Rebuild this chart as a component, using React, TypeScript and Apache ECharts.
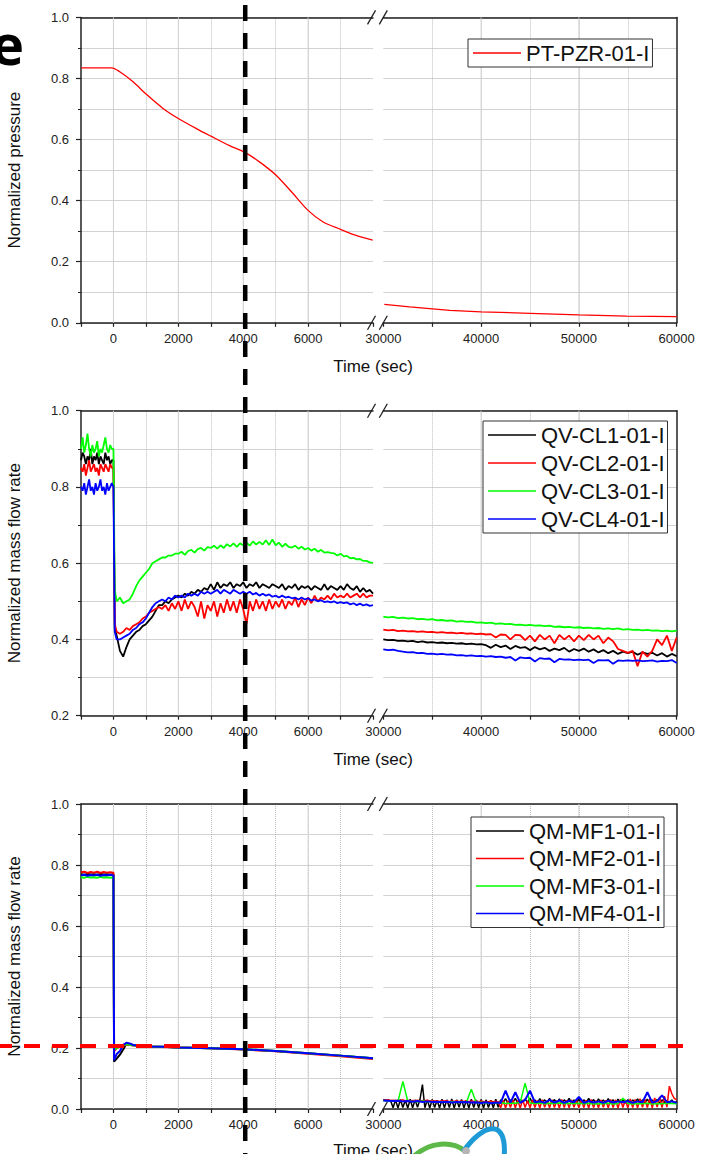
import React, { useEffect, useRef } from 'react';
import * as echarts from 'echarts';

const FONT = '"Liberation Sans", Arial, Helvetica, sans-serif';
const range = (start: number, step: number, n: number) => Array.from({ length: n }, (_, i) => start + i * step);
const zip = (t: number[], v: number[]) => t.map((x, i) => [x, v[i]]);

// ---------- Panel 1: normalized pressure ----------
const pressureLeftTime = [-1000, -60, 195, 605, 1015, 1528, 2000, 2554, 3005, 3580, 4051, 4500, 5005, 5528, 5990, 6451, 7000, 7477, 7990];
const pressureLeftValue = [0.835, 0.835, 0.822, 0.789, 0.748, 0.702, 0.669, 0.636, 0.611, 0.58, 0.558, 0.527, 0.484, 0.424, 0.369, 0.331, 0.306, 0.286, 0.271];
const pressureRightTime = [30100, 32700, 36800, 40000, 45000, 50000, 54900, 60000];
const pressureRightValue = [0.06, 0.052, 0.041, 0.036, 0.031, 0.026, 0.022, 0.02];

// ---------- Panel 2: cold-leg mass flow rates ----------
const clLeftTime = [...range(-1000, 50, 21), 40, ...range(100, 100, 80)];
const clRightTime = range(30000, 500, 61);

const cl1Left = [
  0.87, 0.89, 0.88, 0.86, 0.88, 0.87, 0.9, 0.86, 0.88, 0.87, 0.89, 0.86, 0.88, 0.87, 0.86, 0.89, 0.87, 0.88, 0.86, 0.87, 0.87,
  0.43,
  0.41, 0.37, 0.355, 0.38, 0.4, 0.41, 0.42, 0.425, 0.435, 0.44, 0.45, 0.46, 0.475, 0.49, 0.49, 0.5, 0.495, 0.505, 0.51, 0.515,
  0.51, 0.52, 0.515, 0.525, 0.52, 0.53, 0.525, 0.535, 0.53, 0.545, 0.53, 0.55, 0.535, 0.545, 0.54, 0.55, 0.535, 0.545, 0.54, 0.55,
  0.535, 0.545, 0.54, 0.55, 0.535, 0.545, 0.54, 0.535, 0.545, 0.54, 0.535, 0.545, 0.53, 0.54, 0.535, 0.545, 0.53, 0.54, 0.535, 0.54,
  0.53, 0.54, 0.535, 0.53, 0.545, 0.53, 0.54, 0.535, 0.53, 0.54, 0.53, 0.545, 0.535, 0.53, 0.54, 0.525, 0.535, 0.525, 0.53, 0.52,
];
const cl2Left = [
  0.85, 0.84, 0.86, 0.83, 0.85, 0.87, 0.84, 0.85, 0.86, 0.84, 0.85, 0.83, 0.86, 0.85, 0.84, 0.86, 0.85, 0.84, 0.86, 0.85, 0.85,
  0.44,
  0.42, 0.415, 0.42, 0.43, 0.425, 0.435, 0.44, 0.445, 0.455, 0.46, 0.47, 0.475, 0.48, 0.485, 0.48, 0.49, 0.475, 0.495, 0.48, 0.5,
  0.475, 0.505, 0.48, 0.5, 0.485, 0.46, 0.5, 0.455, 0.49, 0.475, 0.5, 0.46, 0.495, 0.47, 0.505, 0.475, 0.5, 0.47, 0.505, 0.48,
  0.44, 0.5, 0.475, 0.505, 0.48, 0.5, 0.475, 0.505, 0.48, 0.5, 0.485, 0.505, 0.48, 0.5, 0.49, 0.51, 0.485, 0.505, 0.49, 0.51,
  0.495, 0.515, 0.5, 0.51, 0.505, 0.515, 0.505, 0.52, 0.51, 0.515, 0.51, 0.52, 0.51, 0.515, 0.52, 0.51, 0.52, 0.51, 0.515, 0.515,
];
const cl3Left = [
  0.9, 0.93, 0.89, 0.91, 0.94, 0.9, 0.88, 0.91, 0.89, 0.9, 0.92, 0.88, 0.9, 0.89, 0.91, 0.93, 0.9, 0.89, 0.91, 0.9, 0.9,
  0.53,
  0.5, 0.51, 0.495, 0.5, 0.505, 0.52, 0.54, 0.555, 0.565, 0.575, 0.585, 0.6, 0.605, 0.61, 0.615, 0.615, 0.62, 0.62, 0.625, 0.625,
  0.63, 0.622, 0.632, 0.635, 0.628, 0.637, 0.64, 0.633, 0.642, 0.64, 0.646, 0.638, 0.647, 0.64, 0.65, 0.644, 0.652, 0.643, 0.652, 0.647,
  0.654, 0.646, 0.657, 0.649, 0.656, 0.649, 0.66, 0.648, 0.662, 0.647, 0.654, 0.643, 0.651, 0.643, 0.641, 0.646, 0.638, 0.643, 0.636, 0.64,
  0.633, 0.638, 0.63, 0.635, 0.628, 0.629, 0.627, 0.626, 0.62, 0.625, 0.618, 0.619, 0.613, 0.614, 0.61, 0.611, 0.606, 0.606, 0.602, 0.601,
];
const cl4Left = [
  0.8, 0.79, 0.81, 0.78, 0.8, 0.82, 0.79, 0.8, 0.78, 0.81, 0.79, 0.8, 0.82, 0.79, 0.8, 0.78, 0.81, 0.79, 0.8, 0.81, 0.8,
  0.42,
  0.4, 0.4, 0.405, 0.41, 0.415, 0.425, 0.43, 0.44, 0.445, 0.455, 0.47, 0.485, 0.495, 0.5, 0.505, 0.5, 0.51, 0.505, 0.515, 0.51,
  0.515, 0.51, 0.52, 0.515, 0.52, 0.515, 0.525, 0.52, 0.525, 0.52, 0.525, 0.53, 0.52, 0.53, 0.525, 0.52, 0.53, 0.525, 0.52, 0.525,
  0.52, 0.525, 0.518, 0.522, 0.515, 0.52, 0.515, 0.518, 0.512, 0.515, 0.51, 0.515, 0.51, 0.512, 0.508, 0.51, 0.505, 0.51, 0.505, 0.508,
  0.502, 0.505, 0.5, 0.503, 0.498, 0.5, 0.497, 0.5, 0.495, 0.498, 0.495, 0.497, 0.492, 0.495, 0.49, 0.494, 0.489, 0.492, 0.488, 0.49,
];
const cl1Right = [
  0.4,
  0.398, 0.399, 0.396, 0.397, 0.395, 0.396, 0.393, 0.395, 0.392, 0.393,
  0.391, 0.392, 0.39, 0.391, 0.389, 0.39, 0.388, 0.389, 0.387, 0.388,
  0.385, 0.378, 0.386, 0.38, 0.384, 0.375, 0.383, 0.378, 0.38, 0.372,
  0.38, 0.374, 0.378, 0.37, 0.376, 0.372, 0.378, 0.368, 0.375, 0.37,
  0.376, 0.368, 0.374, 0.366, 0.372, 0.364, 0.37, 0.362, 0.368, 0.364,
  0.368, 0.36, 0.366, 0.362, 0.365, 0.358, 0.364, 0.355, 0.362, 0.356,
];
const cl2Right = [
  0.426,
  0.424, 0.425, 0.422, 0.423, 0.421, 0.422, 0.42, 0.421, 0.419, 0.42,
  0.418, 0.419, 0.417, 0.418, 0.416, 0.417, 0.415, 0.416, 0.414, 0.415,
  0.413, 0.414, 0.405, 0.413, 0.412, 0.4, 0.412, 0.411, 0.398, 0.41,
  0.395, 0.412, 0.4, 0.41, 0.39, 0.412, 0.4, 0.41, 0.395, 0.41,
  0.398, 0.412, 0.4, 0.41, 0.39, 0.405, 0.395, 0.375, 0.37, 0.365,
  0.37, 0.33, 0.368, 0.355, 0.37, 0.4, 0.385, 0.41, 0.37, 0.405,
];
const cl3Right = [
  0.46,
  0.458, 0.459, 0.456, 0.457, 0.455, 0.456, 0.453, 0.454, 0.452, 0.453,
  0.45, 0.451, 0.449, 0.45, 0.447, 0.448, 0.446, 0.447, 0.444, 0.445,
  0.443, 0.444, 0.441, 0.442, 0.44, 0.441, 0.438, 0.439, 0.437, 0.438,
  0.436, 0.437, 0.435, 0.436, 0.433, 0.434, 0.432, 0.433, 0.431, 0.432,
  0.43, 0.431, 0.429, 0.43, 0.428, 0.429, 0.427, 0.429, 0.426, 0.427,
  0.425, 0.426, 0.424, 0.425, 0.423, 0.424, 0.422, 0.423, 0.421, 0.423,
];
const cl4Right = [
  0.374,
  0.372, 0.373, 0.37, 0.368, 0.366, 0.367, 0.364, 0.365, 0.362, 0.363,
  0.361, 0.362, 0.36, 0.361, 0.358, 0.359, 0.357, 0.358, 0.356, 0.357,
  0.355, 0.356, 0.354, 0.355, 0.352, 0.354, 0.345, 0.353, 0.351, 0.352,
  0.342, 0.351, 0.349, 0.35, 0.34, 0.349, 0.347, 0.348, 0.346, 0.347,
  0.346, 0.347, 0.338, 0.346, 0.345, 0.346, 0.336, 0.345, 0.344, 0.345,
  0.344, 0.345, 0.343, 0.344, 0.345, 0.342, 0.344, 0.343, 0.346, 0.338,
];

// ---------- Panel 3: main feedwater mass flow rates ----------
const mfLeftTime = [...range(-1000, 100, 11), 20, 100, 200, 300, 400, 500, 600, 800, 1000, 1500, 2000, 3000, 4000, 5000, 6000, 7000, 8000];
const mfRightTimeDense = range(30000, 250, 121);
const mfRightTime = range(30000, 500, 61);

const mf1Left = [0.77, 0.768, 0.771, 0.769, 0.77, 0.768, 0.771, 0.769, 0.77, 0.768, 0.77,
  0.155, 0.165, 0.178, 0.195, 0.214, 0.213, 0.21, 0.207, 0.205, 0.204, 0.202, 0.199, 0.196, 0.19, 0.183, 0.175, 0.166];
const mf2Left = [0.776, 0.778, 0.774, 0.777, 0.775, 0.778, 0.774, 0.777, 0.775, 0.776, 0.775,
  0.19, 0.2, 0.205, 0.208, 0.21, 0.21, 0.208, 0.207, 0.205, 0.203, 0.202, 0.199, 0.195, 0.189, 0.181, 0.173, 0.164];
const mf3Left = [0.76, 0.758, 0.761, 0.759, 0.76, 0.758, 0.761, 0.759, 0.76, 0.758, 0.76,
  0.195, 0.2, 0.205, 0.21, 0.212, 0.211, 0.209, 0.207, 0.205, 0.204, 0.202, 0.199, 0.196, 0.19, 0.183, 0.175, 0.166];
const mf4Left = [0.766, 0.768, 0.765, 0.767, 0.766, 0.768, 0.765, 0.767, 0.766, 0.768, 0.766,
  0.16, 0.18, 0.19, 0.21, 0.217, 0.215, 0.21, 0.207, 0.205, 0.204, 0.202, 0.199, 0.196, 0.19, 0.183, 0.175, 0.166];

// sampled every 250 s
const mf1Right = [
  0.03, 0.029, 0.028, 0.027, 0.004, 0.03, 0.003, 0.031, 0.005, 0.029, 0.003, 0.032, 0.004, 0.03, 0.006, 0.031, 0.08, 0.004, 0.03, 0.003,
  0.031, 0.005, 0.029, 0.003, 0.032, 0.004, 0.03, 0.005, 0.033, 0.003, 0.03, 0.006, 0.031, 0.004, 0.029, 0.003, 0.032, 0.005, 0.03, 0.004,
  0.031, 0.003, 0.03, 0.005, 0.029, 0.004, 0.032, 0.006, 0.03, 0.02, 0.034, 0.018, 0.03, 0.022, 0.035, 0.019, 0.03, 0.021, 0.033, 0.02,
  0.036, 0.02, 0.03, 0.018, 0.034, 0.021, 0.03, 0.019, 0.035, 0.02, 0.031, 0.018, 0.033, 0.02, 0.03, 0.022, 0.035, 0.019, 0.03, 0.02,
  0.032, 0.018, 0.03, 0.021, 0.035, 0.02, 0.031, 0.018, 0.033, 0.02, 0.03, 0.019, 0.034, 0.021, 0.03, 0.018, 0.032, 0.02, 0.03, 0.019,
  0.031, 0.018, 0.03, 0.02, 0.033, 0.019, 0.03, 0.021, 0.032, 0.018, 0.03, 0.02, 0.031, 0.019, 0.03, 0.021, 0.028, 0.02, 0.03, 0.019,
  0.025,
];
// sampled every 250 s
const mf2Right = [
  0.03, 0.029, 0.03, 0.028, 0.029, 0.027, 0.029, 0.028, 0.03, 0.027, 0.029, 0.026, 0.028, 0.027, 0.029, 0.026, 0.028, 0.027, 0.029, 0.026,
  0.028, 0.026, 0.027, 0.025, 0.027, 0.026, 0.027, 0.024, 0.026, 0.025, 0.027, 0.024, 0.026, 0.025, 0.027, 0.024, 0.026, 0.025, 0.026, 0.024,
  0.026, 0.024, 0.025, 0.024, 0.026, 0.023, 0.025, 0.024, 0.004, 0.028, 0.003, 0.027, 0.005, 0.03, 0.004, 0.028, 0.003, 0.03, 0.005, 0.027,
  0.004, 0.03, 0.005, 0.028, 0.003, 0.03, 0.006, 0.027, 0.004, 0.03, 0.005, 0.028, 0.003, 0.031, 0.005, 0.029, 0.004, 0.03, 0.006, 0.028,
  0.004, 0.03, 0.005, 0.029, 0.003, 0.031, 0.005, 0.028, 0.004, 0.03, 0.006, 0.029, 0.004, 0.031, 0.005, 0.03, 0.003, 0.032, 0.005, 0.03,
  0.004, 0.033, 0.005, 0.031, 0.004, 0.034, 0.006, 0.032, 0.005, 0.035, 0.004, 0.036, 0.006, 0.04, 0.005, 0.042, 0.006, 0.075, 0.05, 0.035,
  0.03,
];
// sampled every 500 s
const mf3Right = [
  0.028, 0.026, 0.027, 0.025, 0.09, 0.026, 0.025, 0.024, 0.026, 0.024,
  0.025, 0.023, 0.024, 0.022, 0.024, 0.021, 0.023, 0.022, 0.065, 0.021,
  0.022, 0.02, 0.021, 0.019, 0.021, 0.018, 0.02, 0.019, 0.021, 0.085,
  0.02, 0.018, 0.02, 0.017, 0.019, 0.018, 0.02, 0.017, 0.019, 0.018,
  0.019, 0.017, 0.019, 0.016, 0.018, 0.017, 0.019, 0.016, 0.018, 0.035,
  0.018, 0.016, 0.018, 0.017, 0.019, 0.016, 0.018, 0.017, 0.019, 0.018,
  0.017,
];
// sampled every 500 s
const mf4Right = [
  0.028, 0.027, 0.026, 0.027, 0.025, 0.026, 0.024, 0.026, 0.023, 0.025,
  0.023, 0.024, 0.022, 0.024, 0.021, 0.023, 0.022, 0.023, 0.021, 0.022,
  0.02, 0.022, 0.019, 0.021, 0.02, 0.06, 0.021, 0.055, 0.02, 0.03,
  0.06, 0.022, 0.025, 0.02, 0.03, 0.021, 0.028, 0.02, 0.027, 0.022,
  0.04, 0.02, 0.026, 0.021, 0.025, 0.02, 0.027, 0.021, 0.025, 0.022,
  0.026, 0.02, 0.025, 0.022, 0.055, 0.021, 0.026, 0.045, 0.022, 0.025,
  0.02,
];

const PT_NAME = 'PT-PZR-01-I';
const CL_NAMES = ['QV-CL1-01-I', 'QV-CL2-01-I', 'QV-CL3-01-I', 'QV-CL4-01-I'];
const MF_NAMES = ['QM-MF1-01-I', 'QM-MF2-01-I', 'QM-MF3-01-I', 'QM-MF4-01-I'];
const COLORS = ['#000000', '#ff0000', '#00ff00', '#0000ff'];
const EVENT_TIME = 4000;
const THRESHOLD = 0.2;
// solid vertical grid lines (the other 1000 s / 5000 s lines are dotted)
const MAJOR_LEFT_TIMES = [0, 2000, 4000, 6000];
const MAJOR_RIGHT_TIMES = [40000, 50000];

// layout
const LEFT_X = 81;
const LEFT_W = 292;
const RIGHT_X = 383.3;
const RIGHT_W = 293.4;
const PANELS = [
  { top: 17.4, height: 305.4, yMin: 0 },
  { top: 410.7, height: 305, yMin: 0.2 },
  { top: 804, height: 305, yMin: 0 },
];

const AX = '#222';
const GRID = '#d2d2d2';

const leftBottomX = (g: number) => ({
  type: 'value', gridIndex: g, position: 'bottom', min: -1000, max: 8000, interval: 1000,
  axisLine: { show: true, onZero: false, lineStyle: { color: AX, width: 1.5 } },
  axisTick: { show: true, length: 4, lineStyle: { color: AX, width: 1.2 } },
  axisLabel: {
    show: true, margin: 9, fontSize: 13, color: '#222', fontFamily: FONT,
    formatter: (v: number) => (v >= 0 && v % 2000 === 0 && v < 8000 ? String(v) : ''),
  },
  splitLine: { show: true, showMinLine: false, showMaxLine: false, lineStyle: { color: '#bdbdbd', type: 'dotted', width: 1 } },
});
const leftTopX = (g: number) => ({
  type: 'value', gridIndex: g, position: 'top', min: -1000, max: 8000, interval: 1000,
  axisLine: { show: true, onZero: false, lineStyle: { color: AX, width: 1.5 } },
  axisTick: { show: false }, axisLabel: { show: false }, splitLine: { show: false },
});
const rightBottomX = (g: number) => ({
  type: 'value', gridIndex: g, position: 'bottom', min: 30000, max: 60000, interval: 5000,
  axisLine: { show: true, onZero: false, lineStyle: { color: AX, width: 1.5 } },
  axisTick: { show: true, length: 4, lineStyle: { color: AX, width: 1.2 } },
  axisLabel: {
    show: true, margin: 9, fontSize: 13, color: '#222', fontFamily: FONT,
    formatter: (v: number) => (v % 10000 === 0 ? String(v) : ''),
  },
  splitLine: { show: true, showMinLine: false, showMaxLine: false, lineStyle: { color: '#bdbdbd', type: 'dotted', width: 1 } },
});
const rightTopX = (g: number) => ({
  type: 'value', gridIndex: g, position: 'top', min: 30000, max: 60000, interval: 5000,
  axisLine: { show: true, onZero: false, lineStyle: { color: AX, width: 1.5 } },
  axisTick: { show: false }, axisLabel: { show: false }, splitLine: { show: false },
});
const leftY = (g: number, min: number) => ({
  type: 'value', gridIndex: g, position: 'left', min, max: 1, interval: 0.2,
  axisLine: { show: true, onZero: false, lineStyle: { color: AX, width: 1.5 } },
  axisTick: { show: true, length: 5, lineStyle: { color: AX, width: 1.2 } },
  minorTick: { show: true, splitNumber: 2, length: 3, lineStyle: { color: AX, width: 1 } },
  axisLabel: { margin: 12, fontSize: 13, color: '#222', fontFamily: FONT, formatter: (v: number) => v.toFixed(1) },
  splitLine: { show: true, lineStyle: { color: GRID, width: 1 } },
  minorSplitLine: { show: true, lineStyle: { color: GRID, width: 1 } },
});
const rightY = (g: number, min: number) => ({
  type: 'value', gridIndex: g, position: 'right', min, max: 1, interval: 0.2,
  axisLine: { show: true, onZero: false, lineStyle: { color: AX, width: 1.5 } },
  axisTick: { show: false }, axisLabel: { show: false },
  minorTick: { show: false, splitNumber: 2 },
  splitLine: { show: true, lineStyle: { color: GRID, width: 1 } },
  minorSplitLine: { show: true, lineStyle: { color: GRID, width: 1 } },
});

const line = (name: string, color: string, xi: number, yi: number, data: number[][], width: number) => ({
  type: 'line', name, xAxisIndex: xi, yAxisIndex: yi, data, symbol: 'none', showSymbol: false,
  lineStyle: { color, width }, itemStyle: { color }, silent: true, emphasis: { disabled: true }, z: 3,
});

const legendBox = (names: string[], left: number, top: number, gap: number) => ({
  data: names, left, top, orient: 'vertical', align: 'left', selectedMode: false,
  icon: 'rect', itemWidth: 48, itemHeight: 1.6, itemGap: gap, padding: [3, 3, 3, 5],
  borderColor: '#333', borderWidth: 1, backgroundColor: '#fff', z: 20,
  textStyle: { fontSize: 22, color: '#111', fontFamily: FONT, lineHeight: 21 },
});

export default function App() {
  const ref = useRef<HTMLDivElement>(null);
  useEffect(() => {
    if (!ref.current) return;
    const chart = echarts.init(ref.current, undefined, { renderer: 'svg' });

    const grid: any[] = [];
    const xAxis: any[] = [];
    const yAxis: any[] = [];
    PANELS.forEach((p, i) => {
      grid.push({ left: LEFT_X, top: p.top, width: LEFT_W, height: p.height });
      grid.push({ left: RIGHT_X, top: p.top, width: RIGHT_W, height: p.height });
      xAxis.push(leftBottomX(2 * i), leftTopX(2 * i), rightBottomX(2 * i + 1), rightTopX(2 * i + 1));
      yAxis.push(leftY(2 * i, p.yMin), rightY(2 * i + 1, p.yMin));
    });

    const clLeft = [cl1Left, cl2Left, cl3Left, cl4Left];
    const clRight = [cl1Right, cl2Right, cl3Right, cl4Right];
    const mfLeft = [mf1Left, mf2Left, mf3Left, mf4Left];
    const mfRight = [zip(mfRightTimeDense, mf1Right), zip(mfRightTimeDense, mf2Right), zip(mfRightTime, mf3Right), zip(mfRightTime, mf4Right)];

    const series: any[] = [
      { ...line(PT_NAME, '#ff0000', 0, 0, zip(pressureLeftTime, pressureLeftValue), 1.3), smooth: 0.3 },
      line(PT_NAME, '#ff0000', 2, 1, zip(pressureRightTime, pressureRightValue), 1.3),
    ];
    CL_NAMES.forEach((n, k) => {
      series.push(line(n, COLORS[k], 4, 2, zip(clLeftTime, clLeft[k]), 1.8));
      series.push(line(n, COLORS[k], 6, 3, zip(clRightTime, clRight[k]), 1.8));
    });
    MF_NAMES.forEach((n, k) => {
      series.push(line(n, COLORS[k], 8, 4, zip(mfLeftTime, mfLeft[k]), 2));
      series.push(line(n, COLORS[k], 10, 5, mfRight[k], k === 3 ? 2 : 1.5));
    });

    chart.setOption({
      animation: false,
      backgroundColor: '#ffffff',
      textStyle: { fontFamily: FONT },
      grid, xAxis, yAxis, series,
      legend: [
        legendBox([PT_NAME], 468, 39, 6),
        legendBox(CL_NAMES, 483, 421, 6),
        legendBox(MF_NAMES, 471, 817, 5.5),
      ],
    });

    const xEvent = chart.convertToPixel({ xAxisIndex: 0 }, EVENT_TIME) as number;
    const yThr = chart.convertToPixel({ yAxisIndex: 4 }, THRESHOLD) as number;

    const graphic: any[] = [];
    const txt = (text: string, x: number, y: number, rot = 0, size = 17) => ({
      type: 'text', x, y, rotation: rot, z: 50,
      style: {
        text, fontSize: size, fontFamily: FONT, fill: '#111',
        textAlign: 'center', textVerticalAlign: 'middle', align: 'center', verticalAlign: 'middle',
      },
    });
    PANELS.forEach((p, i) => {
      const bottom = p.top + p.height;
      // solid major vertical grid lines, positioned through the axes' own scales
      MAJOR_LEFT_TIMES.forEach((t) => {
        const x = chart.convertToPixel({ xAxisIndex: 4 * i }, t) as number;
        graphic.push({ type: 'line', z: 1, silent: true, shape: { x1: x, y1: p.top, x2: x, y2: bottom }, style: { stroke: GRID, lineWidth: 1 } });
      });
      MAJOR_RIGHT_TIMES.forEach((t) => {
        const x = chart.convertToPixel({ xAxisIndex: 4 * i + 2 }, t) as number;
        graphic.push({ type: 'line', z: 1, silent: true, shape: { x1: x, y1: p.top, x2: x, y2: bottom }, style: { stroke: GRID, lineWidth: 1 } });
      });
      [p.top, bottom].forEach((y) => {
        [LEFT_X + LEFT_W - 1.5, RIGHT_X].forEach((cx) => {
          graphic.push({
            type: 'line', z: 50,
            shape: { x1: cx - 4, y1: y + 7, x2: cx + 4, y2: y - 7 },
            style: { stroke: AX, lineWidth: 1.3 },
          });
        });
      });
      graphic.push(txt('Time (sec)', 373, Math.min(bottom + 44, 1150)));
      graphic.push(txt(i === 0 ? 'Normalized pressure' : 'Normalized mass flow rate', 14.5, p.top + p.height / 2, Math.PI / 2));
    });
    // panel letter
    graphic.push({
      type: 'text', x: -9, y: 43, z: 50,
      style: {
        text: 'e', fontSize: 56, fontWeight: 'bold', fontFamily: '"Open Sans", "Noto Sans", sans-serif', fill: '#000',
        textAlign: 'left', textVerticalAlign: 'middle', align: 'left', verticalAlign: 'middle',
      },
    });
    // partial logo at the bottom edge
    graphic.push({
      type: 'bezierCurve', z: 60,
      shape: { x1: 413, y1: 1157, cpx1: 430, cpy1: 1141, cpx2: 452, cpy2: 1141, x2: 465, y2: 1151 },
      style: { stroke: '#5cb947', lineWidth: 5, fill: null },
    });
    graphic.push({
      type: 'bezierCurve', z: 60,
      shape: { x1: 463, y1: 1152, cpx1: 482, cpy1: 1124, cpx2: 508, cpy2: 1116, x2: 504, y2: 1158 },
      style: { stroke: '#1e9bd7', lineWidth: 5, fill: null },
    });
    graphic.push({ type: 'circle', z: 61, shape: { cx: 466, cy: 1151, r: 4 }, style: { fill: '#b5b5b5' } });
    // annotation lines
    graphic.push({
      type: 'line', z: 100,
      shape: { x1: -4, y1: yThr - 2, x2: 683, y2: yThr - 2 },
      style: { stroke: '#ff0000', lineWidth: 4, lineDash: [16, 12] },
    });
    graphic.push({
      type: 'line', z: 101,
      shape: { x1: xEvent + 2, y1: 5, x2: xEvent + 2, y2: 1154 },
      style: { stroke: '#000000', lineWidth: 4.5, lineDash: [16, 12] },
    });

    chart.setOption({ graphic });

    return () => chart.dispose();
  }, []);
  return <div ref={ref} style={{ position: 'absolute', left: 0, top: 0, width: 701, height: 1154 }} />;
}
